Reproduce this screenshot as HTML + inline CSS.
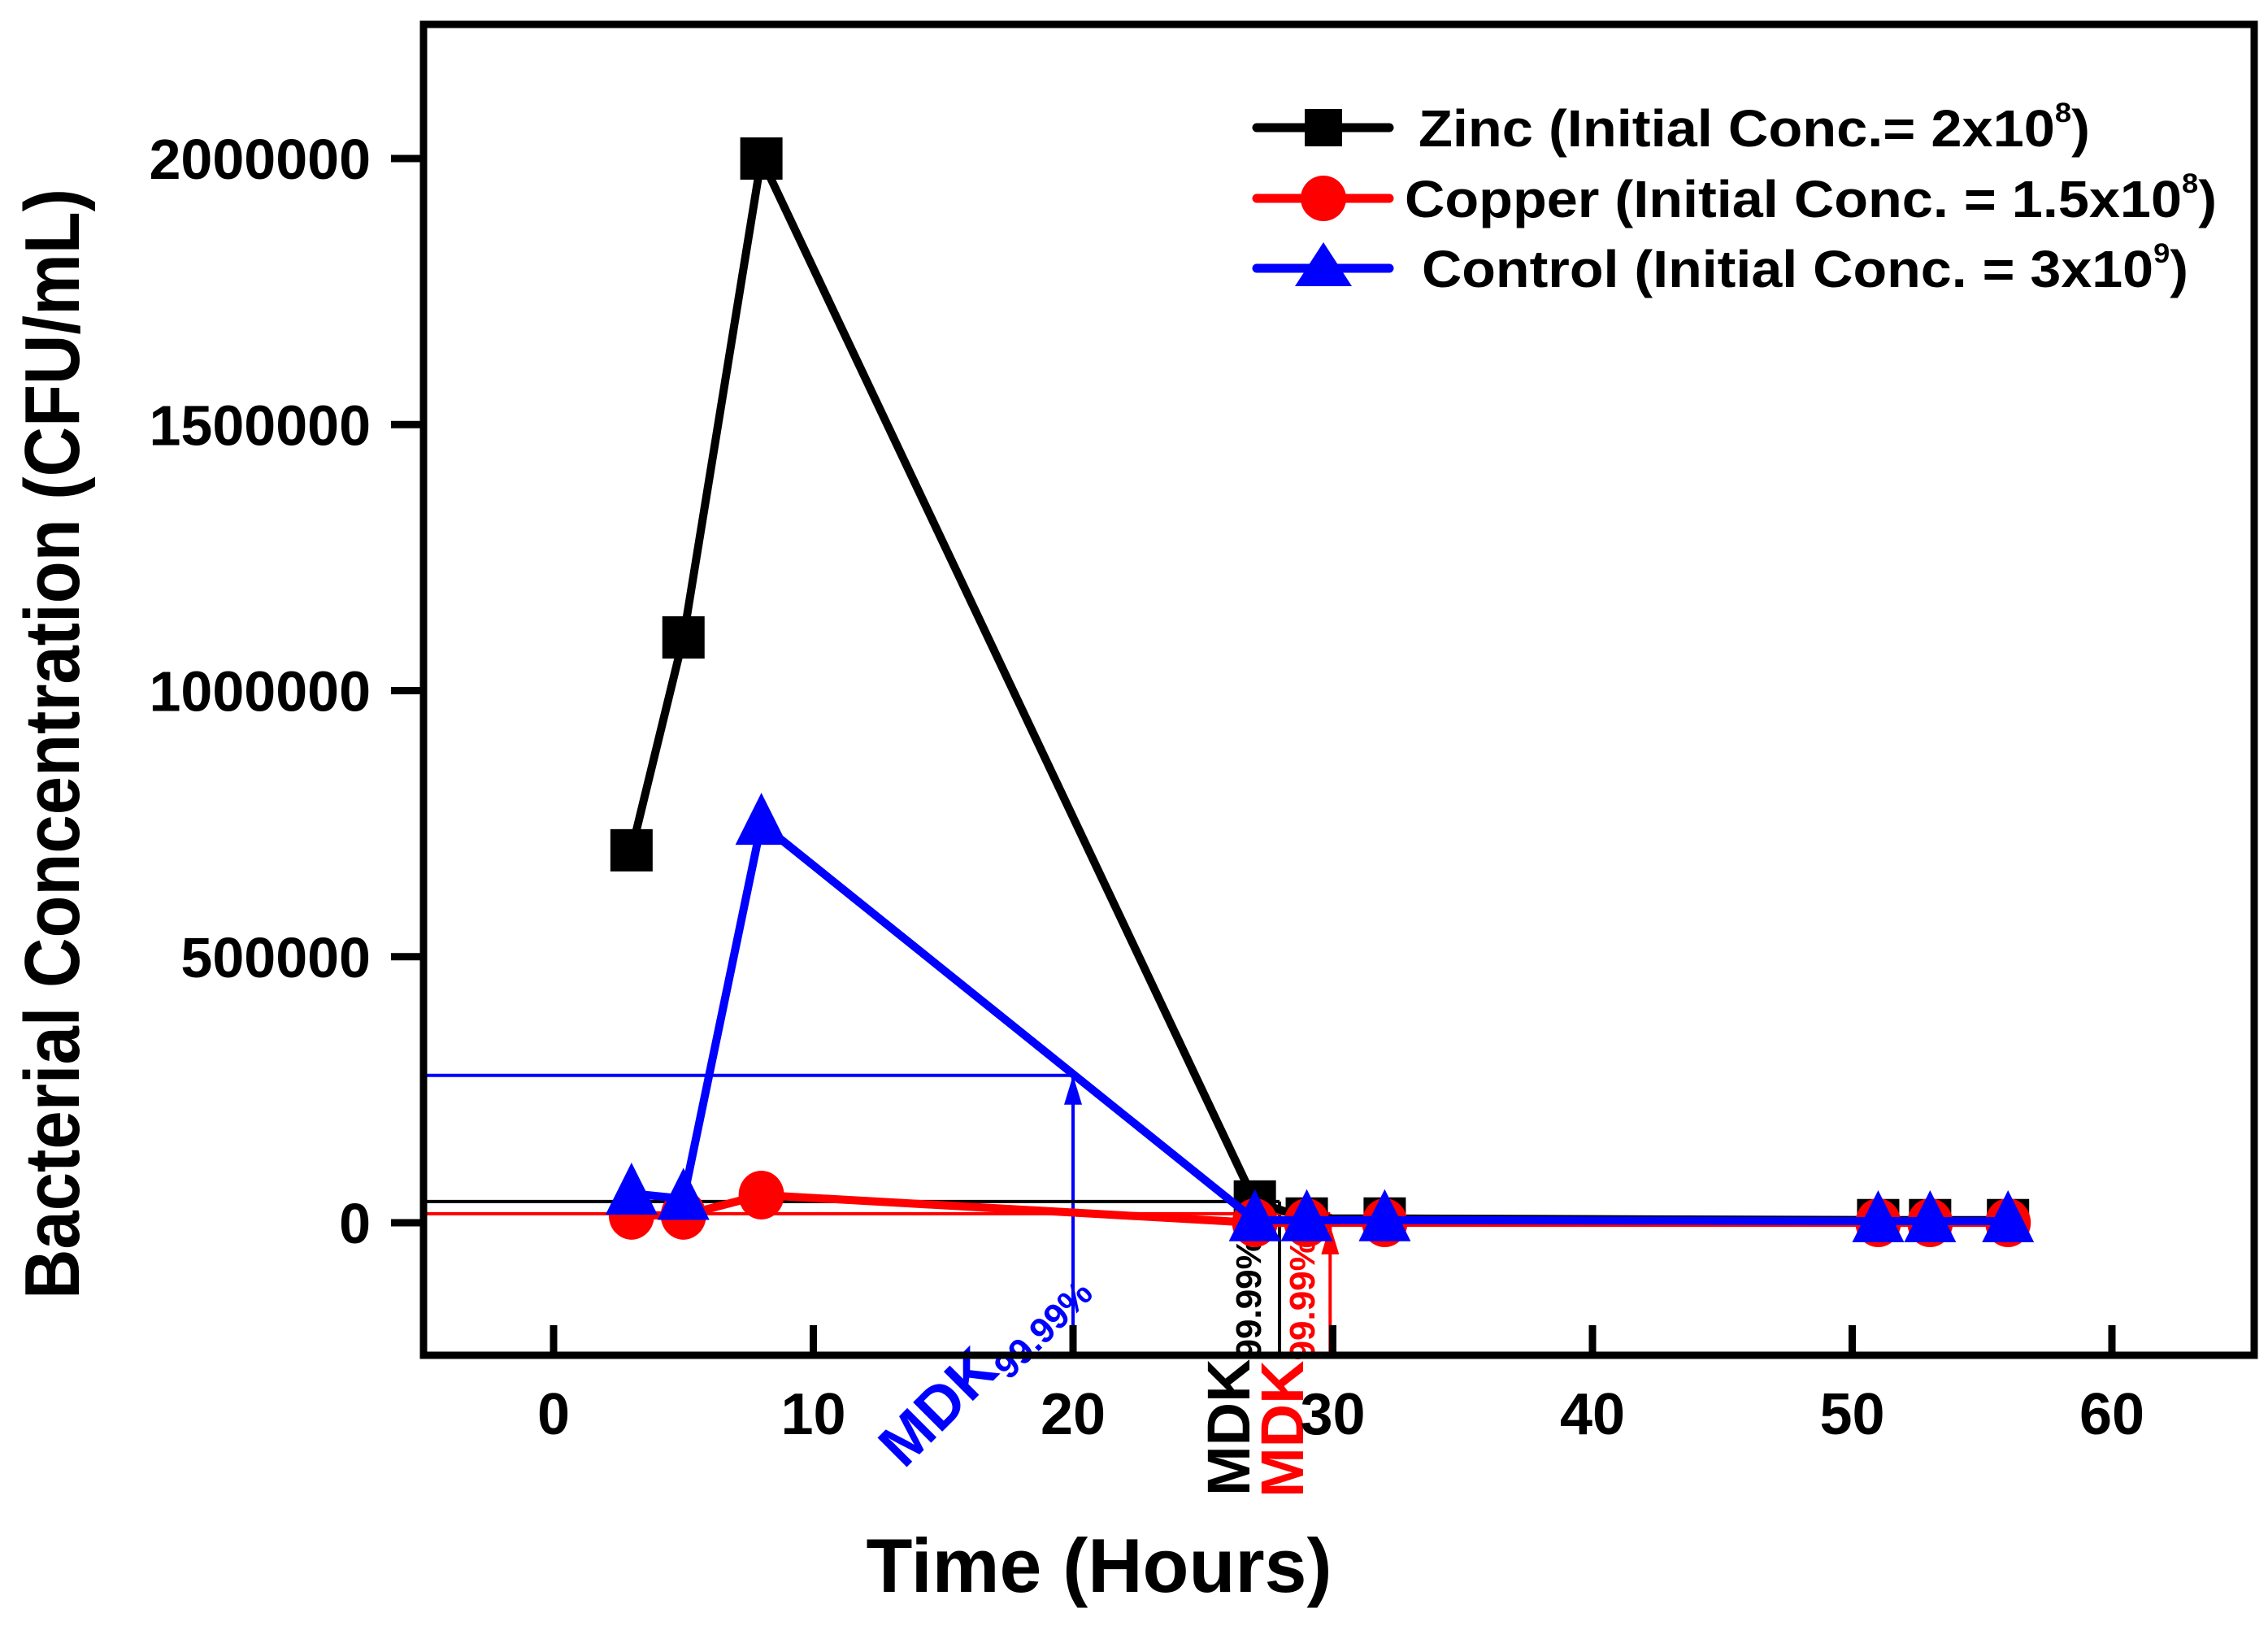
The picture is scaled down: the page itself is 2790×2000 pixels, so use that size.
<!DOCTYPE html>
<html><head><meta charset="utf-8"><style>
html,body{margin:0;padding:0;background:#fff;}
svg{display:block;font-family:"Liberation Sans",Arial,sans-serif;font-weight:bold;}
</style></head><body>
<svg id="chart" width="2790" height="2000" viewBox="0 0 2790 2000" xmlns="http://www.w3.org/2000/svg">
<rect x="0" y="0" width="2790" height="2000" fill="#fff"/>
<g id="annLayer"></g>
<g id="seriesLayer"></g>
<rect x="521" y="30" width="2252" height="1637" fill="none" stroke="#000" stroke-width="9"/>
<g id="axesLayer"></g>
<text x="0" y="0" transform="translate(97,915) rotate(-90)" text-anchor="middle" font-size="96" textLength="1366" lengthAdjust="spacingAndGlyphs">Bacterial Concentration (CFU/mL)</text>
<text x="1352" y="1958" text-anchor="middle" font-size="94" textLength="573" lengthAdjust="spacingAndGlyphs">Time (Hours)</text>
<g>
  <g>
    <line x1="1546" y1="157" x2="1709" y2="157" stroke="#000" stroke-width="11" stroke-linecap="round"/>
    <rect x="1605" y="134" width="46" height="46" fill="#000"/>
    <text x="1745" y="180" font-size="64" textLength="826" lengthAdjust="spacingAndGlyphs">Zinc (Initial Conc.= 2x10<tspan dy="-30" font-size="34">8</tspan><tspan dy="30">)</tspan></text>
  </g>
  <g>
    <line x1="1546" y1="244" x2="1709" y2="244" stroke="#f00" stroke-width="11" stroke-linecap="round"/>
    <ellipse cx="1628" cy="244" rx="28" ry="28" fill="#f00"/>
    <text x="1728" y="267" font-size="64" textLength="999" lengthAdjust="spacingAndGlyphs">Copper (Initial Conc. = 1.5x10<tspan dy="-30" font-size="34">8</tspan><tspan dy="30">)</tspan></text>
  </g>
  <g>
    <line x1="1546" y1="330" x2="1709" y2="330" stroke="#00f" stroke-width="11" stroke-linecap="round"/>
    <polygon points="1628,298 1663,352 1593,352" fill="#00f"/>
    <text x="1749" y="353" font-size="64" textLength="943" lengthAdjust="spacingAndGlyphs">Control (Initial Conc. = 3x10<tspan dy="-30" font-size="34">9</tspan><tspan dy="30">)</tspan></text>
  </g>
</g>
</svg>
<script>
const times = [3, 5, 8, 27, 29, 32, 51, 53, 56];
const zincValues = [700000, 1100000, 2000000, 40000, 8000, 8000, 5000, 5000, 5000];
const copperValues = [14000, 14000, 52000, 0, 0, 0, 0, 0, 0];
const controlValues = [55000, 45000, 750000, 5000, 5000, 5000, 3000, 3000, 3000];
const xTicks = [0, 10, 20, 30, 40, 50, 60];
const yTicks = [0, 500000, 1000000, 1500000, 2000000];
const mdkTimes = [20, 27.95, 29.9];
const mdkLevels = [277000, 40000, 17000];

(function(){
const NS = 'http://www.w3.org/2000/svg';
const X0 = 681, XPER = 31.95;
const Y0 = 1504, YPX = 1309 / 2000000;
function xScale(v){ return X0 + Number(v) * XPER; }
function yScale(v){ return Y0 - Number(v) * YPX; }
function mk(tag, attrs, parent){
  const e = document.createElementNS(NS, tag);
  for (const k in attrs) e.setAttribute(k, String(attrs[k]));
  parent.appendChild(e);
  return e;
}
const axesG = document.getElementById('axesLayer');
const seriesG = document.getElementById('seriesLayer');
const annG = document.getElementById('annLayer');

xTicks.forEach(t => {
  const l = mk('line', {x1: xScale(t), x2: xScale(t), y1: 1667, y2: 1630, stroke: '#000', 'stroke-width': 9}, axesG);
  
  
  const tx = mk('text', {x: xScale(t), y: 1764, 'text-anchor': 'middle', 'font-size': 72}, axesG);
  tx.textContent = String(t);
  
  
});
yTicks.forEach(t => {
  const l = mk('line', {x1: 481, x2: 521, y1: yScale(t), y2: yScale(t), stroke: '#000', 'stroke-width': 9}, axesG);
  
  
  const tx = mk('text', {x: 456, y: yScale(t) + 25, 'text-anchor': 'end', 'font-size': 70}, axesG);
  tx.textContent = String(t);
  
  
});

const mdkColors = ['#00f', '#000', '#f00'];
mdkTimes.forEach((t, i) => {
  const hy = yScale(mdkLevels[i]);
  const h = mk('line', {x1: 521, x2: xScale(t), y1: hy, y2: hy, stroke: mdkColors[i], 'stroke-width': 4}, annG);
  
  
  const v = mk('line', {x1: xScale(t), x2: xScale(t), y1: 1667, y2: hy, stroke: mdkColors[i], 'stroke-width': 4}, annG);
  
  
  if (i !== 1) {
    const yt = hy + (i === 2 ? 14 : 0);
    const x = xScale(t);
    const a = mk('polygon', {points: x + ',' + yt + ' ' + (x - 11) + ',' + (yt + 36) + ' ' + (x + 11) + ',' + (yt + 36), fill: mdkColors[i]}, annG);
    
    
  }
});

function drawSeries(vals, color, shape, name){
  const g = mk('g', {}, seriesG);
  
  
  const pts = times.map((t, i) => xScale(t) + ',' + yScale(vals[i])).join(' ');
  const pl = mk('polyline', {points: pts, fill: 'none', stroke: color, 'stroke-width': 10, 'stroke-linejoin': 'round'}, g);
  
  
  times.forEach((t, i) => {
    const x = xScale(t), y = yScale(vals[i]);
    let m;
    if (shape === 'square') m = mk('rect', {x: x - 26, y: y - 26, width: 52, height: 52, fill: color}, g);
    else if (shape === 'circle') m = mk('ellipse', {cx: x, cy: y, rx: 28, ry: 30, fill: color}, g);
    else m = mk('polygon', {points: x + ',' + (y - 38) + ' ' + (x + 32) + ',' + (y + 26) + ' ' + (x - 32) + ',' + (y + 26), fill: color}, g);
    
    
  });
}
drawSeries(zincValues, '#000', 'square', 'zinc');
drawSeries(copperValues, '#f00', 'circle', 'copper');
drawSeries(controlValues, '#00f', 'triangle', 'control');

function mdkLabel(x, y, rot, color, name){
  const t = mk('text', {x: 0, y: 0, transform: 'translate(' + x + ',' + y + ') rotate(' + rot + ')', fill: color, 'font-size': 74}, annG);
  t.textContent = 'MDK';
  const s = mk('tspan', {'font-size': 44, dy: 14}, t);
  s.textContent = '99.99%';
  
  
}
mdkLabel(1112, 1808, -45, '#00f', 'mdk-label-control');
mdkLabel(1537, 1840, -90, '#000', 'mdk-label-zinc');
mdkLabel(1603, 1842, -90, '#f00', 'mdk-label-copper');
})();
</script>
</body></html>
